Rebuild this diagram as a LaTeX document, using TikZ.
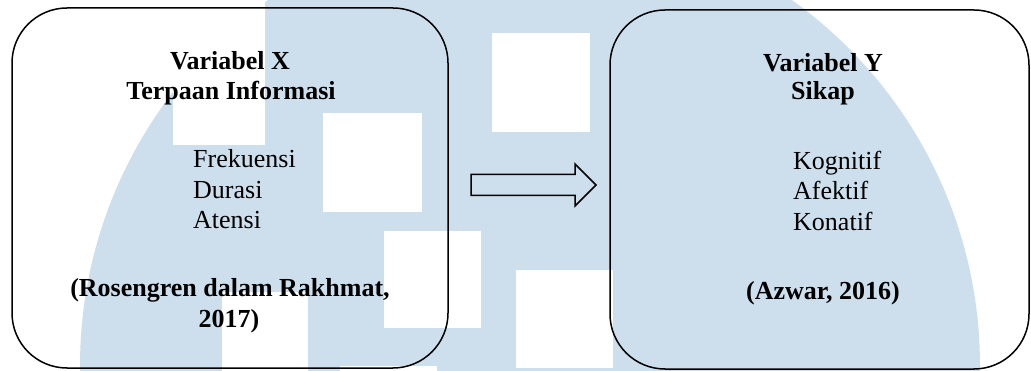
\documentclass[tikz,border=0pt]{standalone}
\usepackage{fontspec}
\setmainfont{Liberation Serif}
\definecolor{wm}{RGB}{205,223,237}
\begin{document}
\begin{tikzpicture}[x=1pt,y=-1pt,
  box/.style={draw=black, line width=1.5pt, rounded corners=55pt, inner sep=0pt},
  txt/.style={font=\fontsize{26}{30}\selectfont, inner sep=0pt, anchor=base},
  hd/.style={txt, font=\fontsize{26}{30}\selectfont\bfseries},
  item/.style={txt, anchor=base west},
  blockarrow/.style={draw=black, line width=1.5pt, line join=miter}]
\useasboundingbox (0,0) rectangle (1031,371);
% watermark background
\begin{scope}
  \clip (0,0) rectangle (1031,371);
  \fill[white] (0,0) rectangle (1031,371);
  \fill[wm] (530,366) circle[radius=450pt];
  \fill[white] (173,-10) rectangle (265,145);
  \fill[white] (323,113) rectangle (422,212);
  \fill[white] (384,231) rectangle (481,328);
  \fill[white] (222,292) rectangle (308,380);
  \fill[white] (492,33) rectangle (590,132);
  \fill[white] (516,270) rectangle (613,368);
  \fill[white] (340,366) rectangle (437,380);
\end{scope}
% boxes
\node[box, minimum width=436pt, minimum height=360pt] (bx) at (230,188) {};
\node[box, minimum width=419pt, minimum height=359pt] (by) at (819.5,189.5) {};
% left texts
\node[hd] (vx) at (230,70) {Variabel X};
\node[hd] (tx) at (231,100) {Terpaan Informasi};
\node[item] (x1) at (193,168) {Frekuensi};
\node[item] (x2) at (193,199) {Durasi};
\node[item] (x3) at (193,229) {Atensi};
\node[hd] (rx1) at (230,297) {(Rosengren dalam Rakhmat,};
\node[hd] (rx2) at (229,327) {2017)};
% right texts
\node[hd] (vy) at (823,72) {Variabel Y};
\node[hd] (ty) at (823,100) {Sikap};
\node[item] (y1) at (793,170) {Kognitif};
\node[item] (y2) at (793,200) {Afektif};
\node[item] (y3) at (793,231) {Konatif};
\node[hd] (ry) at (823,300) {(Azwar, 2016)};
% block arrow
\coordinate (aS) at (471,185);
\coordinate (aT) at (596,185);
\draw[blockarrow] (aS) ++(0,-10.5) -- ++(104,0) -- ++(0,-10.5) -- (aT) -- ++(-21,21) -- ++(0,-10.5) -- ++(-104,0) -- cycle;
\end{tikzpicture}
\end{document}
